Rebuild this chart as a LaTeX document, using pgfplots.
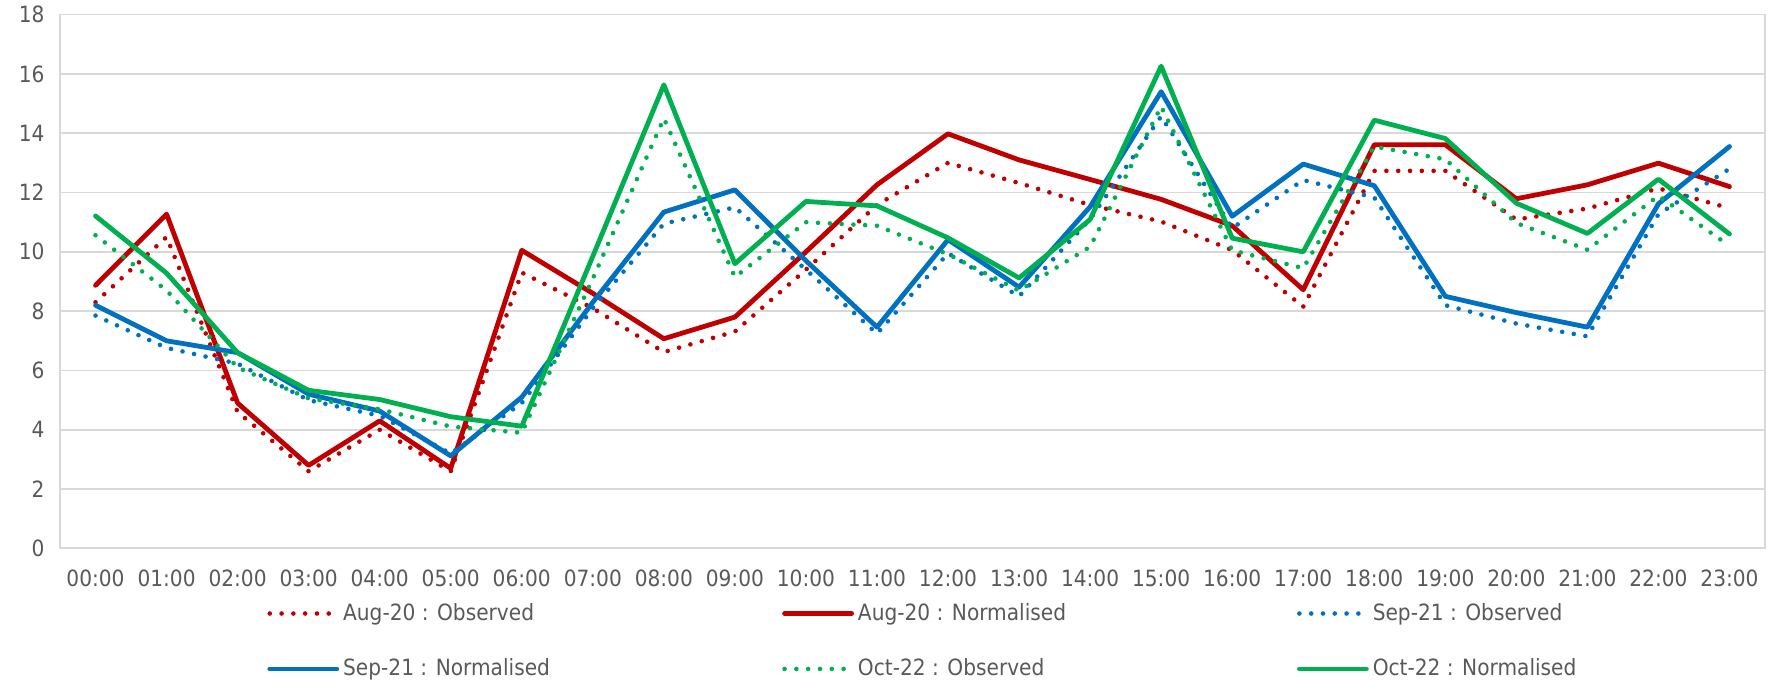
\documentclass[border=0pt]{standalone}
\usepackage{pgfplots}
\usepackage{pgfplotstable}
\pgfplotsset{compat=1.18}
\usepackage{fontspec}
\setmainfont{DejaVu Sans Condensed}
\definecolor{cred}{HTML}{C00000}
\definecolor{cblue}{HTML}{0070C0}
\definecolor{cgreen}{HTML}{00B050}
\definecolor{cgrid}{HTML}{D9D9D9}
\definecolor{ctext}{HTML}{595959}

\pgfplotstableread{
h  ao     an     so     sn     oo     on
0  8.30   8.87   7.85   8.20   10.56  11.21
1  10.50  11.27  6.76   7.00   8.70   9.28
2  4.60   4.90   6.23   6.60   6.10   6.60
3  2.60   2.80   5.00   5.20   5.06   5.33
4  4.00   4.30   4.47   4.63   4.69   5.02
5  2.60   2.70   3.20   3.12   4.11   4.44
6  9.30   10.05  4.90   5.10   3.90   4.12
7  8.10   8.60   8.10   8.30   9.10   9.85
8  6.62   7.07   10.95  11.34  14.50  15.63
9  7.31   7.80   11.50  12.09  9.15   9.60
10 9.40   10.00  9.40   9.70   11.00  11.70
11 11.58  12.26  7.24   7.46   10.88  11.55
12 13.00  13.98  9.95   10.41  9.92   10.47
13 12.32  13.10  8.50   8.81   8.69   9.12
14 11.58  12.44  11.10  11.52  10.17  11.09
15 11.02  11.77  14.57  15.40  14.90  16.26
16 10.06  10.88  10.80  11.20  10.05  10.46
17 8.15   8.72   12.42  12.96  9.45   10.00
18 12.73  13.61  11.83  12.23  13.55  14.44
19 12.73  13.61  8.20   8.50   13.12  13.82
20 11.09  11.79  7.58   7.95   10.97  11.64
21 11.46  12.26  7.15   7.46   10.07  10.62
22 12.14  12.99  11.27  11.62  11.89  12.45
23 11.47  12.20  12.80  13.55  10.20  10.60
}\datatable

\begin{document}
\begin{tikzpicture}
\begin{axis}[
  at={(30pt,67.3pt)}, anchor=south west,
  scale only axis, width=852.5pt, height=266.9pt,
  xmin=-0.5, xmax=23.5, ymin=0, ymax=18,
  xtick={0,...,23},
  xticklabels={00:00,01:00,02:00,03:00,04:00,05:00,06:00,07:00,08:00,09:00,10:00,11:00,12:00,13:00,14:00,15:00,16:00,17:00,18:00,19:00,20:00,21:00,22:00,23:00},
  ytick={0,2,...,18},
  ymajorgrids, grid style={color=cgrid, line width=0.9pt},
  axis line style={color=cgrid, line width=0.9pt},
  major tick length=0pt,
  tick label style={font=\fontsize{11.2}{13}\selectfont, text=ctext},
  /pgf/number format/assume math mode=true,
  xticklabel style={yshift=-7pt},
  yticklabel style={xshift=-4.2pt},
  legend columns=3,
  legend cell align=left,
  legend style={at={(axis description cs:0.1214,-0.095)}, anchor=north west,
    draw=none, fill=none, inner sep=0pt, font=\fontsize{11.2}{13}\selectfont, text=ctext,
    row sep=13.7pt, /tikz/every odd column/.append style={column sep=0pt}},
  legend image code/.code={\draw[#1] (0pt,0pt) -- (33.5pt,0pt);},
  solid/.style={line width=2.4pt, line join=round, line cap=round},
  dots/.style={line width=2.3pt, dash pattern=on 0pt off 5.9pt, line cap=round},
]
\addplot[cred, dots] table[x=h, y=ao] {\datatable};
\addlegendentry{\makebox[217.5pt][l]{Aug-20 : Observed}}
\addplot[cred, solid] table[x=h, y=an] {\datatable};
\addlegendentry{\makebox[217.5pt][l]{Aug-20 : Normalised}}
\addplot[cblue, dots] table[x=h, y=so] {\datatable};
\addlegendentry{\makebox[217.5pt][l]{Sep-21 : Observed}}
\addplot[cblue, solid] table[x=h, y=sn] {\datatable};
\addlegendentry{\makebox[217.5pt][l]{Sep-21 : Normalised}}
\addplot[cgreen, dots] table[x=h, y=oo] {\datatable};
\addlegendentry{\makebox[217.5pt][l]{Oct-22 : Observed}}
\addplot[cgreen, solid] table[x=h, y=on] {\datatable};
\addlegendentry{\makebox[217.5pt][l]{Oct-22 : Normalised}}
\end{axis}
\pgfresetboundingbox
\path[use as bounding box] (0pt,0pt) rectangle (889.5pt,341.5pt);
\end{tikzpicture}
\end{document}
